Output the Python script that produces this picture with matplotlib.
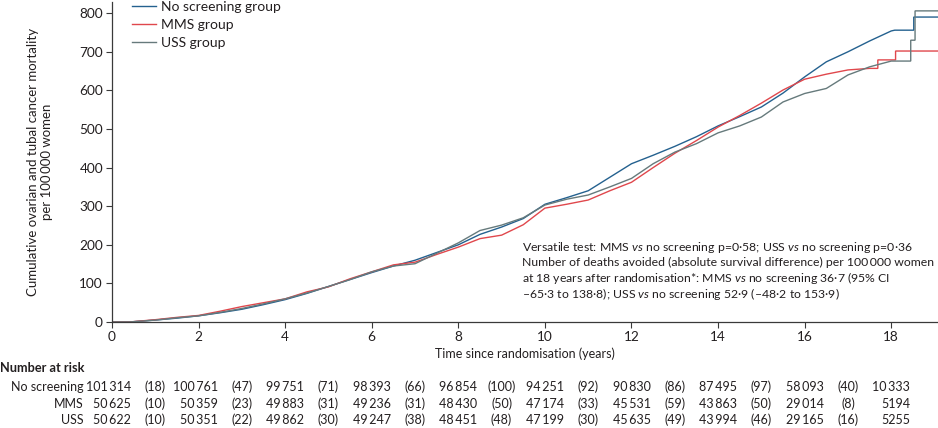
import matplotlib
matplotlib.use('Agg')
import matplotlib.pyplot as plt
from matplotlib.lines import Line2D
from matplotlib.transforms import blended_transform_factory

FONT = ['Lato', 'DejaVu Sans']
plt.rcParams['font.family'] = FONT
plt.rcParams['mathtext.fontset'] = 'custom'
plt.rcParams['mathtext.rm'] = 'Lato'
plt.rcParams['mathtext.it'] = 'Lato:italic'

# ---------------- data ----------------
t_no = [0, 0.4, 1, 1.5, 2, 2.5, 3, 3.5, 4, 4.5, 5, 5.5, 6, 6.5, 7, 7.5, 8, 8.5, 9, 9.5,
        10, 10.5, 11, 11.5, 12, 12.5, 13, 13.5, 14, 14.5, 15, 15.5, 16, 16.5, 17, 17.5,
        18, 18.08, 18.52, 18.52, 19.1]
v_no = [0, 0, 5, 10, 16, 24, 33, 45, 58, 74, 92, 110, 128, 145, 160, 180, 200, 227, 246, 268,
        305, 322, 340, 375, 410, 432, 455, 480, 508, 532, 557, 593, 635, 674, 700, 728,
        754, 756, 756, 790, 790]

t_mms = [0, 0.4, 1, 1.5, 2, 2.5, 3, 3.5, 4, 4.5, 5, 5.5, 6, 6.5, 7, 7.5, 8, 8.5, 9, 9.5,
         10, 10.5, 11, 11.5, 12, 12.5, 13, 13.5, 14, 14.5, 15, 15.5, 16, 16.5, 17, 17.5,
         17.69, 17.69, 18.1, 18.1, 19.1]
v_mms = [0, 0, 6, 12, 17, 28, 40, 50, 60, 78, 91, 112, 130, 148, 155, 175, 194, 216, 225, 252,
         295, 305, 316, 340, 362, 400, 437, 470, 505, 535, 567, 601, 629, 642, 653, 657,
         657, 679, 679, 702, 702]

t_uss = [0, 0.4, 1, 1.5, 2, 2.5, 3, 3.5, 4, 4.5, 5, 5.5, 6, 6.5, 7, 7.5, 8, 8.5, 9, 9.5,
         10, 10.5, 11, 11.5, 12, 12.5, 13, 13.5, 14, 14.5, 15, 15.5, 16, 16.5, 17, 17.5,
         18, 18.45, 18.45, 18.55, 18.55, 19.1]
v_uss = [0, 0, 5, 11, 16, 25, 35, 47, 60, 75, 92, 110, 130, 145, 151, 178, 205, 237, 251, 270,
         303, 318, 329, 350, 372, 410, 440, 462, 490, 508, 531, 570, 592, 605, 640, 661,
         676, 676, 730, 730, 806, 806]

series_labels = ['No screening group', 'MMS group', 'USS group']
series_colors = ['#24618f', '#e0474c', '#667a7c']

risk_times = [0, 2, 4, 6, 8, 10, 12, 14, 16, 18]
event_times = [1, 3, 5, 7, 9, 11, 13, 15, 17]
row_labels = ['No screening', 'MMS', 'USS']
risk_no = [101314, 100761, 99751, 98393, 96854, 94251, 90830, 87495, 58093, 10333]
risk_mms = [50625, 50359, 49883, 49236, 48430, 47174, 45531, 43863, 29014, 5194]
risk_uss = [50622, 50351, 49862, 49247, 48451, 47199, 45635, 43994, 29165, 5255]
ev_no = [18, 47, 71, 66, 100, 92, 86, 97, 40]
ev_mms = [10, 23, 31, 31, 50, 33, 59, 50, 8]
ev_uss = [10, 22, 30, 38, 48, 30, 49, 46, 16]

xticks = [0, 2, 4, 6, 8, 10, 12, 14, 16, 18]
yticks = [0, 100, 200, 300, 400, 500, 600, 700, 800]

# ---------------- figure ----------------
W, H = 938, 428
fig = plt.figure(figsize=(W / 100, H / 100), dpi=100)
ax = fig.add_axes([112 / W, 1 - 322 / H, (W - 112) / W, 320 / H])

txt_col = '#231f20'
for tt, vv, c, lab in zip([t_no, t_mms, t_uss], [v_no, v_mms, v_uss], series_colors, series_labels):
    ax.plot(tt, vv, color=c, lw=1.0, label=lab, solid_joinstyle='miter')

ax.set_xlim(0, 19.08)
ax.set_ylim(0, 829)
ax.set_xticks(xticks)
ax.set_yticks(yticks)
for s in ['top', 'right']:
    ax.spines[s].set_visible(False)
for s in ['left', 'bottom']:
    ax.spines[s].set_color('#3a3a3a')
    ax.spines[s].set_linewidth(0.9)
ax.tick_params(axis='both', direction='out', length=4.5, width=0.8, color='#3a3a3a',
               labelsize=9.8, labelcolor=txt_col, pad=2)
ax.set_xlabel('Time since randomisation (years)', fontsize=9, color=txt_col, labelpad=3)

fig.text(40 / W, 1 - 162 / H,
         'Cumulative ovarian and tubal cancer mortality\nper 100\u2009000 women',
         rotation=90, ha='center', va='center', fontsize=9.5, color=txt_col,
         linespacing=1.25)

handles = [Line2D([0], [0], color=c, lw=1.0) for c in series_colors]
leg = ax.legend(handles, series_labels, loc='upper left', bbox_to_anchor=(0.017, 1.022),
                frameon=False, fontsize=10, handlelength=1.75, handletextpad=0.4,
                labelspacing=0.45, borderaxespad=0)
for t in leg.get_texts():
    t.set_color(txt_col)

ann = ('Versatile test: MMS $\\mathit{vs}$ no screening p=0\u00b758; USS $\\mathit{vs}$ no screening p=0\u00b736\n'
       'Number of deaths avoided (absolute survival difference) per 100\u2009000 women\n'
       'at 18 years after randomisation*: MMS $\\mathit{vs}$ no screening 36\u00b77 (95% CI\n'
       '\u201365\u00b73 to 138\u00b78); USS $\\mathit{vs}$ no screening 52\u00b79 (\u201348\u00b72 to 153\u00b79)')
lines = ann.split('\n')
for i, ln in enumerate(lines):
    fig.text(522 / W, 1 - (247 + i * 15.5) / H, ln, ha='left', va='center',
             fontsize=8.8, color=txt_col)

# ---------------- number at risk ----------------
def fmt(n):
    s = str(n)
    if len(s) >= 5:
        s = s[:-3] + '\u2009' + s[-3:]
    return s

trans = blended_transform_factory(ax.transData, fig.transFigure)
fig.text(0, 1 - 368 / H, 'Number at risk', fontweight='bold', ha='left', va='center',
         fontsize=9.2, color=txt_col)
row_y = [387, 403.5, 420]
for lab, risks, evs, yy in zip(row_labels, [risk_no, risk_mms, risk_uss],
                               [ev_no, ev_mms, ev_uss], row_y):
    yf = 1 - yy / H
    fig.text(84 / W, yf, lab, ha='right', va='center', fontsize=9, color=txt_col)
    for tx, n in zip(risk_times, risks):
        ax.text(tx + 0.44, yf, fmt(n), transform=trans, ha='right', va='center',
                fontsize=9, color=txt_col, clip_on=False)
    for tx, e in zip(event_times, evs):
        ax.text(tx, yf, f'({e})', transform=trans, ha='center', va='center',
                fontsize=9, color=txt_col, clip_on=False)

fig.savefig('out.png', dpi=100)
